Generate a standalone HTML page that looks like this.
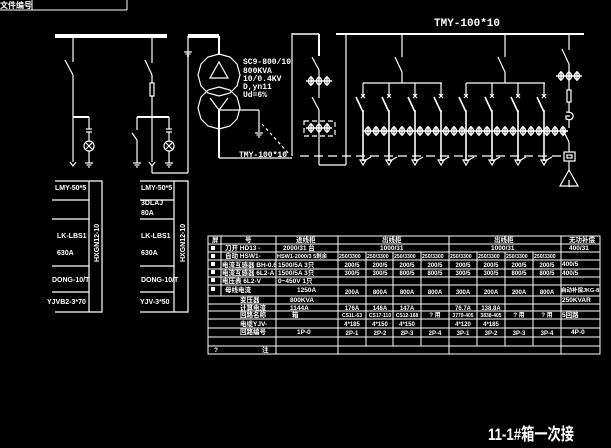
<!DOCTYPE html>
<html><head><meta charset="utf-8">
<style>
html,body{margin:0;padding:0;background:#000;}
svg{display:block;}
text{fill:#fff;font-family:"Liberation Sans","Noto Sans CJK SC",sans-serif;font-weight:bold;}
.m{font-family:"Liberation Mono","Noto Sans CJK SC",monospace;}
</style></head><body>
<svg width="611" height="448" viewBox="0 0 611 448" xmlns="http://www.w3.org/2000/svg">
<defs>
<g id="ct" stroke="#fff" fill="none" stroke-width="1.4">
<line x1="-13" y1="0" x2="13" y2="0"/>
<ellipse cx="-8" cy="0" rx="2.5" ry="3.5"/><line x1="-8" y1="-5" x2="-8" y2="5"/>
<ellipse cx="0" cy="0" rx="2.5" ry="3.5"/><line x1="0" y1="-5" x2="0" y2="5"/>
<ellipse cx="8" cy="0" rx="2.5" ry="3.5"/><line x1="8" y1="-5" x2="8" y2="5"/>
</g>
<g id="fd" stroke="#fff" fill="none" stroke-width="1.2">
<line x1="0" y1="83" x2="0" y2="96"/>
<line x1="-2" y1="94" x2="2" y2="98"/><line x1="2" y1="94" x2="-2" y2="98"/>
<line x1="-7" y1="97" x2="0" y2="112" stroke-width="1.6"/>
<line x1="0" y1="110" x2="0" y2="161" stroke-width="1.6"/>
<path d="M-3 160 L0 165 L3 160 Z"/>
<line x1="1" y1="161" x2="8" y2="157"/>
</g>
<g id="gnd" stroke="#fff" stroke-width="1.2"><line x1="-4" y1="0" x2="4" y2="0"/><line x1="-2.5" y1="2" x2="2.5" y2="2"/><line x1="-1" y1="4" x2="1" y2="4"/></g>
</defs>
<rect width="611" height="448" fill="#000"/>
<g stroke="#fff" fill="none" stroke-width="1">
<line x1="0" y1="10" x2="127" y2="10"/><line x1="127" y1="0" x2="127" y2="10"/><line x1="32" y1="0" x2="32" y2="10"/>
</g>
<text x="0" y="8" font-size="8">文件编号</text>
<g stroke="#fff" fill="none" stroke-width="1.2">
<line x1="55" y1="36" x2="167" y2="36" stroke-width="4"/>
<line x1="73" y1="38" x2="73" y2="62"/><line x1="65" y1="60" x2="73" y2="75"/>
<line x1="73" y1="75" x2="73" y2="162"/><path d="M70 162 L73 166 L76 162"/>
<line x1="73" y1="117" x2="89" y2="117" stroke-width="2"/><line x1="89" y1="117" x2="89" y2="129"/>
<line x1="86" y1="129" x2="92" y2="129"/><line x1="86" y1="132" x2="92" y2="132"/>
<line x1="89" y1="132" x2="89" y2="141"/><circle cx="89" cy="146" r="5"/>
<line x1="86" y1="143" x2="92" y2="149"/><line x1="92" y1="143" x2="86" y2="149"/>
<line x1="89" y1="151" x2="89" y2="163"/>
<use href="#gnd" x="89" y="163"/>
<line x1="152" y1="38" x2="152" y2="63"/><line x1="145" y1="60" x2="152" y2="75"/>
<line x1="152" y1="75" x2="152" y2="83"/><rect x="150" y="83" width="4" height="13"/>
<line x1="152" y1="96" x2="152" y2="162"/><path d="M149 162 L152 166 L155 162"/>
<line x1="152" y1="166" x2="152" y2="173"/><line x1="152" y1="173" x2="188" y2="173"/><line x1="188" y1="173" x2="188" y2="36"/>
<line x1="188" y1="36" x2="219" y2="36" stroke-width="4"/>
<line x1="219" y1="36" x2="219" y2="55" stroke-width="2"/>
<use href="#gnd" x="188" y="52"/>
<line x1="137" y1="117" x2="169" y2="117" stroke-width="2"/>
<line x1="137" y1="117" x2="137" y2="130"/><line x1="132" y1="133" x2="137" y2="140"/><line x1="137" y1="140" x2="137" y2="163"/><use href="#gnd" x="137" y="163"/>
<line x1="169" y1="117" x2="169" y2="129"/><line x1="166" y1="129" x2="172" y2="129"/><line x1="166" y1="132" x2="172" y2="132"/>
<line x1="169" y1="132" x2="169" y2="141"/><circle cx="169" cy="146" r="5"/>
<line x1="166" y1="143" x2="172" y2="149"/><line x1="172" y1="143" x2="166" y2="149"/>
<line x1="169" y1="151" x2="169" y2="163"/><use href="#gnd" x="169" y="163"/>
<polygon points="219,54 230,57 237,64 240,75 237,86 230,93 219,96 208,93 201,86 198,75 201,64 208,57"/>
<polygon points="219,87 230,90 237,97 240,108 237,119 230,126 219,129 208,126 201,119 198,108 201,97 208,90"/>
<polygon points="219,62 228,78 210,78"/>
<line x1="210" y1="98" x2="219" y2="110"/><line x1="228" y1="98" x2="219" y2="110"/>
<line x1="219" y1="110" x2="259" y2="110"/><line x1="259" y1="110" x2="259" y2="132"/><use href="#gnd" x="259" y="133"/>
<line x1="219" y1="110" x2="219" y2="158" stroke-width="2"/>
<line x1="219" y1="158" x2="292" y2="158"/>
<line x1="262" y1="124" x2="290" y2="155" stroke-dasharray="3,3"/>
<line x1="292" y1="33" x2="292" y2="156"/>
<line x1="292" y1="34" x2="319" y2="34" stroke-width="1.5"/>
<line x1="319" y1="34" x2="319" y2="56" stroke-width="2"/>
<line x1="312" y1="57" x2="319" y2="70"/><line x1="319" y1="70" x2="319" y2="98"/>
<line x1="312" y1="97" x2="319" y2="110"/><line x1="319" y1="110" x2="319" y2="165"/>
<line x1="319" y1="165" x2="346" y2="165"/><line x1="346" y1="165" x2="346" y2="34"/>
<rect x="304" y="121" width="31" height="15" stroke-dasharray="5,3"/>
<line x1="336" y1="34" x2="584" y2="34" stroke-width="2"/>
<line x1="402" y1="34" x2="402" y2="57"/><line x1="395" y1="57" x2="402" y2="72"/><line x1="402" y1="72" x2="402" y2="83"/>
<line x1="363" y1="83" x2="442" y2="83"/>
<line x1="505" y1="34" x2="505" y2="57"/><line x1="498" y1="57" x2="505" y2="72"/><line x1="505" y1="72" x2="505" y2="83"/>
<line x1="466" y1="83" x2="545" y2="83"/>
<line x1="300" y1="156" x2="563" y2="156" stroke-dasharray="9,5"/>
<line x1="569" y1="34" x2="569" y2="50"/><line x1="562" y1="49" x2="569" y2="64"/><line x1="569" y1="64" x2="569" y2="90"/>
<rect x="567" y="90" width="4" height="12"/><line x1="569" y1="102" x2="569" y2="112"/>
<path d="M566 112 Q574 112 573 117 Q572 121 566 119 L566 116 L570 116"/>
<line x1="569" y1="120" x2="569" y2="128"/>
<line x1="562" y1="128" x2="569" y2="142"/><line x1="569" y1="142" x2="569" y2="152"/>
<rect x="564" y="152" width="11" height="9"/><rect x="567" y="155" width="5" height="3"/>
<line x1="569" y1="161" x2="569" y2="170"/>
<polygon points="569,170 578,186 560,186"/>
<line x1="569" y1="180" x2="569" y2="187"/>
</g>
<use href="#ct" x="319" y="81"/><use href="#ct" x="319" y="128"/><use href="#ct" x="569" y="76"/>
<use href="#fd" x="363"/><use href="#fd" x="389"/><use href="#fd" x="415"/><use href="#fd" x="441"/>
<use href="#fd" x="466"/><use href="#fd" x="492"/><use href="#fd" x="518"/><use href="#fd" x="544"/>
<use href="#ct" x="376" y="131"/><use href="#ct" x="402" y="131"/><use href="#ct" x="428" y="131"/><use href="#ct" x="454" y="131"/>
<use href="#ct" x="479" y="131"/><use href="#ct" x="505" y="131"/><use href="#ct" x="531" y="131"/><use href="#ct" x="555" y="131"/>
<text class="m" x="243" y="64" font-size="8">SC9-800/10</text>
<text class="m" x="243" y="73" font-size="8">800KVA</text>
<text class="m" x="243" y="81" font-size="8">10/0.4KV</text>
<text class="m" x="243" y="89" font-size="8">D,yn11</text>
<text class="m" x="243" y="97" font-size="8">Ud=6%</text>
<text class="m" x="239" y="157" font-size="8">TMY-100*10</text>
<text class="m" x="434" y="26" font-size="11" font-weight="normal">TMY-100*10</text>
<g stroke="#fff" fill="none" stroke-width="1.2">
<polyline points="55,181 102,181 102,312 55,312"/><line x1="89" y1="181" x2="89" y2="312"/>
<line x1="52" y1="200" x2="89" y2="200"/><line x1="52" y1="219" x2="89" y2="219"/><line x1="52" y1="266" x2="89" y2="266"/><line x1="52" y1="292" x2="89" y2="292"/>
<polyline points="140,181 188,181 188,312 140,312"/><line x1="174" y1="181" x2="174" y2="312"/>
<line x1="140" y1="200" x2="174" y2="200"/><line x1="140" y1="219" x2="174" y2="219"/><line x1="140" y1="266" x2="174" y2="266"/><line x1="140" y1="292" x2="174" y2="292"/>
</g>
<g class="m" font-size="7">
<text x="55" y="190">LMY-50*5</text><text x="57" y="238">LK-LBS1</text><text x="57" y="255">630A</text><text x="52" y="282">DONG-10/T</text><text x="47" y="304">YJVB2-3*70</text>
<text x="141" y="190">LMY-50*5</text><text x="141" y="205">3DLAJ</text><text x="141" y="215">80A</text><text x="141" y="238">LK-LBS1</text><text x="141" y="255">630A</text><text x="141" y="282">DONG-10/T</text><text x="140" y="304">YJV-3*50</text>
<text transform="translate(99,262) rotate(-90)">HXGN12-10</text>
<text transform="translate(185,262) rotate(-90)">HXGN12-10</text>
</g>
<g stroke="#fff" fill="none" stroke-width="1">
<rect x="208" y="236" width="392" height="118"/>
<line x1="208" y1="244" x2="600" y2="244"/><line x1="208" y1="252" x2="600" y2="252"/><line x1="208" y1="260" x2="600" y2="260"/>
<line x1="208" y1="269" x2="600" y2="269"/><line x1="208" y1="277" x2="600" y2="277"/><line x1="208" y1="285" x2="600" y2="285"/>
<line x1="208" y1="296" x2="600" y2="296"/><line x1="208" y1="304" x2="600" y2="304"/><line x1="208" y1="311" x2="600" y2="311"/>
<line x1="208" y1="319" x2="600" y2="319"/><line x1="208" y1="328" x2="600" y2="328"/><line x1="208" y1="337" x2="600" y2="337"/><line x1="208" y1="346" x2="600" y2="346"/>
<line x1="221" y1="236" x2="221" y2="296"/>
<line x1="276" y1="236" x2="276" y2="354"/><line x1="338" y1="236" x2="338" y2="354"/><line x1="449" y1="236" x2="449" y2="354"/><line x1="561" y1="236" x2="561" y2="354"/>
<line x1="366" y1="252" x2="366" y2="346"/><line x1="393" y1="252" x2="393" y2="346"/><line x1="421" y1="252" x2="421" y2="346"/>
<line x1="477" y1="252" x2="477" y2="346"/><line x1="505" y1="252" x2="505" y2="346"/><line x1="533" y1="252" x2="533" y2="346"/>
</g>
<g fill="#fff"><rect x="211" y="246" width="4" height="4"/><rect x="211" y="254" width="4" height="4"/><rect x="211" y="262" width="4" height="4"/><rect x="211" y="270" width="4" height="4"/><rect x="211" y="278" width="4" height="4"/><rect x="211" y="287" width="4" height="4"/></g>
<g font-size="6.5">
<text x="212" y="242">屏</text><text x="245" y="242">号</text><text x="296" y="242">进线柜</text><text x="382" y="242">出线柜</text><text x="494" y="242">出线柜</text><text x="569" y="242">无功补偿</text>
<text x="225" y="250">刀开 HD13 -</text><text x="283" y="250">2000/31 台</text><text x="380" y="250">1000/31</text><text x="491" y="250">1000/31</text><text x="569" y="250">400/31</text>
<text x="225" y="258">自动 HSW1-</text><text x="277" y="258" font-size="5.5">HSW1-2000/3 5剩余</text>
<g font-size="5.2"><text x="339" y="258">250/3300</text><text x="367" y="258">250/3300</text><text x="394" y="258">250/3300</text><text x="422" y="258">250/3300</text><text x="450" y="258">250/3300</text><text x="478" y="258">250/3300</text><text x="506" y="258">250/3300</text><text x="534" y="258">250/3300</text></g>
<text x="222" y="267">电流互感器 BH-0.6</text><text x="278" y="267">1500/5A 3只</text>
<text x="222" y="275">电流互感器 6L2-A</text><text x="278" y="275">1500/5A 3只</text>
<text x="222" y="283">电压表 6L2-V</text><text x="278" y="283">0~450V 1只</text>
<text x="225" y="292">母线电流</text><text x="297" y="292">1250A</text>
<text x="240" y="302">变压器</text><text x="290" y="302">800KVA</text><text x="562" y="302">250KVAR</text>
<text x="240" y="310">计算电流</text><text x="290" y="310">1144A</text>
<text x="240" y="317">回路名称</text><text x="292" y="317">箱</text><text x="562" y="317">5回路</text>
<text x="240" y="326">电缆YJV-</text>
<text x="240" y="334">回路编号</text><text x="297" y="334">1P-0</text><text x="571" y="334">4P-0</text>
<text x="214" y="352">?</text><text x="262" y="352">注</text>
<text x="562" y="266">400/5</text><text x="562" y="275">400/5</text><text x="561" y="292" font-size="5.5">自动补偿JKG-8</text>
</g>
<g font-size="6" text-anchor="middle">
<text x="352" y="267">200/5</text><text x="380" y="267">200/5</text><text x="407" y="267">200/5</text><text x="435" y="267">200/5</text><text x="463" y="267">200/5</text><text x="491" y="267">200/5</text><text x="519" y="267">200/5</text><text x="547" y="267">200/5</text>
<text x="352" y="275">300/5</text><text x="380" y="275">300/5</text><text x="407" y="275">800/5</text><text x="435" y="275">800/5</text><text x="463" y="275">300/5</text><text x="491" y="275">300/5</text><text x="519" y="275">800/5</text><text x="547" y="275">800/5</text>
<text x="352" y="294">200A</text><text x="380" y="294">800A</text><text x="407" y="294">800A</text><text x="435" y="294">800A</text><text x="463" y="294">300A</text><text x="491" y="294">200A</text><text x="519" y="294">200A</text><text x="547" y="294">800A</text>
<text x="352" y="310">176A</text><text x="380" y="310">148A</text><text x="407" y="310">147A</text><text x="463" y="310">76.7A</text><text x="491" y="310">138.8A</text>
<text x="352" y="317" font-size="5">CS1L-63</text><text x="380" y="317" font-size="5">CS17-110</text><text x="407" y="317" font-size="5">CS12-168</text><text x="435" y="317">? 用</text><text x="463" y="317" font-size="5">3779-405</text><text x="491" y="317" font-size="5">3838-405</text><text x="519" y="317">? 用</text><text x="547" y="317">? 用</text>
<text x="352" y="326">4*185</text><text x="380" y="326">4*150</text><text x="407" y="326">4*150</text><text x="463" y="326">4*120</text><text x="491" y="326">4*185</text>
<text x="352" y="335">2P-1</text><text x="380" y="335">2P-2</text><text x="407" y="335">2P-3</text><text x="435" y="335">2P-4</text><text x="463" y="335">3P-1</text><text x="491" y="335">3P-2</text><text x="519" y="335">3P-3</text><text x="547" y="335">3P-4</text>
</g>
<text x="488" y="440" font-size="17" font-weight="normal" textLength="86" lengthAdjust="spacingAndGlyphs">11-1#箱一次接</text>
</svg>
</body></html>
